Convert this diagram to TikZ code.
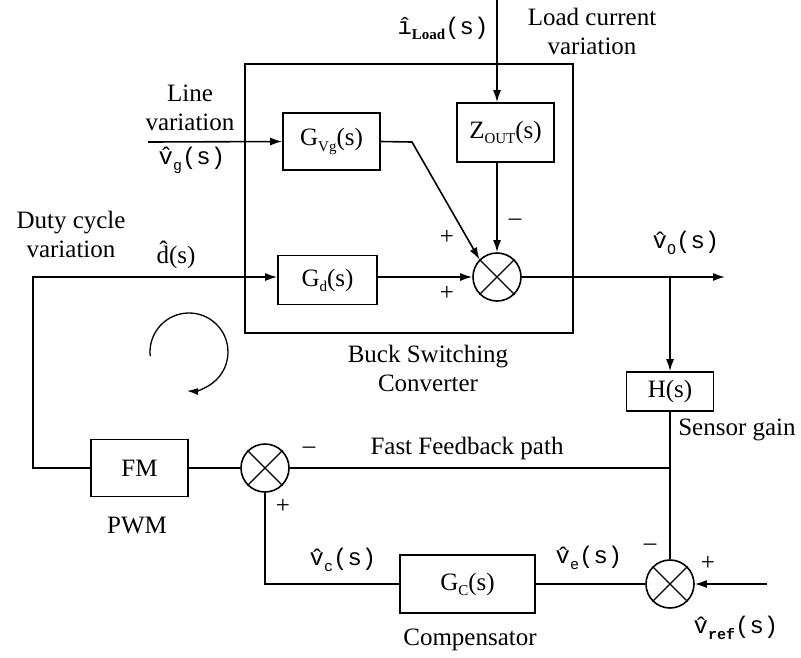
\documentclass[tikz,border=0pt]{standalone}
\usepackage{fontspec}
\setmainfont{Liberation Serif}
\newfontfamily\monofam{Liberation Mono}
\usetikzlibrary{arrows.meta,calc}

% lowered index, e.g. G_d
\newcommand{\lowidx}[1]{\raisebox{-0.45ex}{\fontsize{15}{15}\selectfont #1}}
% small-signal variable with hat: v-hat_#1(s)
\newcommand{\hv}[1]{{\monofam\fontsize{24}{28}\selectfont\^{v}\lowidx{#1}(s)}}

\begin{document}
\begin{tikzpicture}[x=1pt,y=-1pt,line width=1.6pt,
  every node/.style={font=\fontsize{25}{29}\selectfont},
  block/.style={draw, inner sep=0pt},
  sumnode/.style={draw, circle, minimum size=48pt, inner sep=0pt},
  sig/.style={-{Latex[length=12pt,width=8pt]}},
  sgn/.style={font=\fontsize{25}{25}\selectfont, inner sep=0pt},
  lbl/.style={align=center, inner sep=0pt}]

\useasboundingbox (0,0) rectangle (801,657);

% converter frame
\node[draw, minimum width=328pt, minimum height=269pt, inner sep=0pt] (buck) at (409,198.5) {};

% blocks
\node[block, minimum width=97pt, minimum height=57pt] (gvg) at (331.5,141.5) {G\lowidx{Vg}(s)};
\node[block, minimum width=97pt, minimum height=59pt] (zout) at (505.5,132.5) {Z\lowidx{OUT}(s)};
\node[block, minimum width=99pt, minimum height=49pt] (gd) at (327.5,280) {G\lowidx{d}(s)};
\node[block, minimum width=87pt, minimum height=39pt] (hs) at (670,391.5) {H(s)};
\node[block, minimum width=97pt, minimum height=57pt] (fm) at (139.5,468) {FM};
\node[block, minimum width=135pt, minimum height=58pt] (gc) at (467.5,584) {G\lowidx{C}(s)};

% summing junctions
\node[sumnode] (s1) at (497,277) {};
\node[sumnode] (s2) at (265,468) {};
\node[sumnode] (s3) at (670,584) {};
\foreach \s in {s1,s2,s3}
  \draw[line width=1.2pt] (\s.north east) -- (\s.south west) (\s.north west) -- (\s.south east);

% free ends and bends
\coordinate (vgin) at (148,142);
\coordinate (iin) at (497,0);
\coordinate (bend) at (412,142);
\coordinate (dcorner) at (33,277);
\coordinate (vout) at (725,277);
\coordinate (vtap) at (670,277);
\coordinate (ffjoin) at (670,468);
\coordinate (vcorner) at (265,584);
\coordinate (vrefin) at (767,584);

% signal paths
\draw[sig] (vgin) -- (gvg.west);
\draw[sig] (gvg.east) -- (bend) -- (s1.north west);
\draw[sig] (iin) -- (zout.north -| s1);
\draw[sig] (zout.south -| s1) -- (s1.north);
\draw[sig] (gd.east |- s1) -- (s1.west);
\draw[sig] (s1.east) -- (vout);
\draw[sig] (vtap) -- (hs.north);
\draw (hs.south) -- (s3.north);
\draw (ffjoin) -- (s2.east);
\draw (s3.west) -- (gc.east);
\draw (gc.west) -- (vcorner) -- (s2.south);
\draw (s2.west) -- (fm.east);
\draw[sig] (fm.west) -- (fm.west -| dcorner) -- (dcorner) -- (gd.west |- s1);
\draw[sig] (vrefin) -- (s3.east);

% loop direction mark
\coordinate (loopc) at (189,352);
\draw[line width=1.3pt, -{Latex[length=11pt,width=7pt]}] (loopc) ++(186:39pt) arc[start angle=186, end angle=-93, radius=39pt];

% labels
\node[lbl] (lload) at (443,28) {{\monofam\fontsize{24}{28}\selectfont\^{\i}}\lowidx{\bfseries Load}{\monofam\fontsize{24}{28}\selectfont(s)}};
\node[lbl] (lloadtxt) at (592,31) {Load current\\variation};
\node[lbl] (lline) at (190,108) {Line\\variation};
\node[lbl] (lvg) at (192,160) {\hv{g}};
\node[lbl] (lduty) at (71,234) {Duty cycle\\variation};
\node[lbl] (ld) at (176,255) {\^{d}(s)};
\node[lbl] (lvo) at (686,243) {\hv{O}};
\node[lbl] (lbuck) at (428,368) {Buck Switching\\Converter};
\node[lbl] (lsensor) at (737,430) {Sensor gain};
\node[lbl] (lfast) at (467,448) {Fast Feedback path};
\node[lbl] (lpwm) at (137,525) {PWM};
\node[lbl] (lvc) at (343,560) {\hv{c}};
\node[lbl] (lcomp) at (470,640) {Compensator};
\node[lbl] (lve) at (589,558) {\hv{e}};
\node[lbl] (lvref) at (736,628) {\hv{\bfseries ref}};

% signs at the junctions
\node[sgn] at (447,237) {+};
\node[sgn] at (447,293) {+};
\node[sgn] at (515,222) {\textendash};
\node[sgn] at (309,450) {\textendash};
\node[sgn] at (283,506) {+};
\node[sgn] at (650,547) {\textendash};
\node[sgn] at (708,563) {+};
\end{tikzpicture}
\end{document}
